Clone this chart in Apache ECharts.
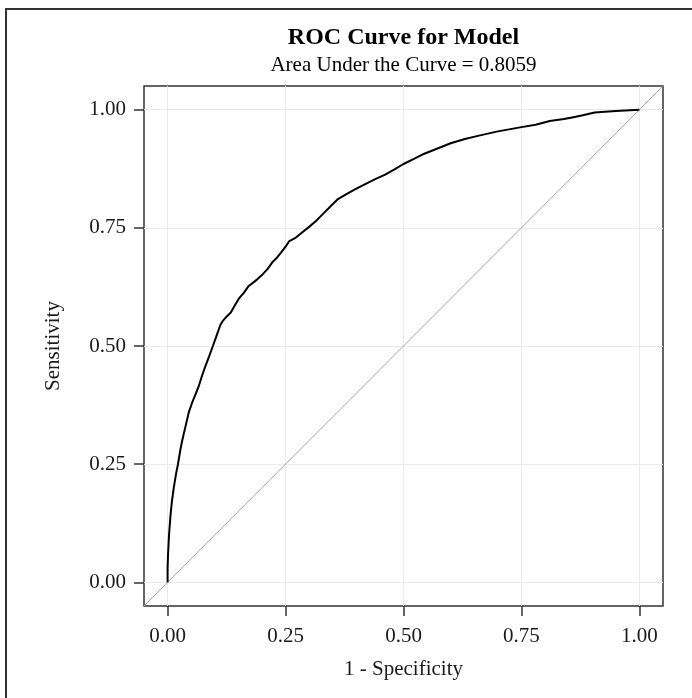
<!DOCTYPE html>
<html>
<head>
<meta charset="utf-8">
<script src="https://cdn.jsdelivr.net/npm/echarts@6/dist/echarts.min.js"></script>
<style>
  html, body { margin: 0; padding: 0; background: #fff; }
  #chart { width: 692px; height: 698px; }
</style>
</head>
<body>
<div id="chart"></div>
<script>
// ROC curve
const fprValues = [0, 0, 0.001, 0.003, 0.006, 0.009, 0.013, 0.018, 0.022, 0.027, 0.031, 0.038, 0.045, 0.052,
    0.06, 0.066, 0.073, 0.08, 0.088, 0.096, 0.105, 0.112, 0.117, 0.125, 0.134, 0.142, 0.151, 0.161, 0.172,
    0.18, 0.19, 0.2, 0.212, 0.222, 0.23, 0.24, 0.25, 0.258, 0.27, 0.285, 0.3, 0.315, 0.33, 0.345, 0.36,
    0.38, 0.4, 0.42, 0.44, 0.46, 0.48, 0.5, 0.52, 0.54, 0.56, 0.58, 0.6, 0.63, 0.66, 0.7, 0.75, 0.78,
    0.81, 0.84, 0.86, 0.88, 0.905, 0.95, 1];
const tprValues = [0, 0.03, 0.06, 0.1, 0.14, 0.17, 0.2, 0.23, 0.25, 0.28, 0.3, 0.33, 0.36, 0.38,
    0.4, 0.415, 0.437, 0.457, 0.478, 0.5, 0.525, 0.545, 0.553, 0.562, 0.571, 0.585, 0.6, 0.612, 0.627,
    0.633, 0.641, 0.65, 0.663, 0.677, 0.685, 0.697, 0.71, 0.722, 0.728, 0.74, 0.752, 0.765, 0.78, 0.795, 0.81,
    0.822, 0.833, 0.843, 0.853, 0.862, 0.873, 0.885, 0.895, 0.905, 0.913, 0.921, 0.929, 0.938, 0.945, 0.954, 0.963, 0.968,
    0.976, 0.98, 0.984, 0.988, 0.994, 0.997, 1];

// reference diagonal, spans the whole panel
const diagValues = [-0.05, 1.05];

const tickValues = [0, 0.25, 0.5, 0.75, 1];
const tickLabels = ['0.00', '0.25', '0.50', '0.75', '1.00'];

const titleText = 'ROC Curve for Model';
const subtitleText = 'Area Under the Curve = 0.8059';

const serif = '"Liberation Serif", "DejaVu Serif", serif';

function makeAxis(name, nameGap, labelMargin) {
    return {
        type: 'value',
        min: -0.05,
        max: 1.05,
        name: name,
        nameLocation: 'middle',
        nameGap: nameGap,
        nameTextStyle: { fontFamily: serif, fontSize: 21, color: '#1a1a1a' },
        axisLine: { show: false, onZero: false },
        axisTick: {
            show: true, inside: false, length: 10, customValues: tickValues,
            lineStyle: { color: '#333', width: 1.5 }
        },
        axisLabel: {
            customValues: tickValues,
            margin: labelMargin,
            fontFamily: serif, fontSize: 21, color: '#1a1a1a',
            formatter: (v) => tickLabels[tickValues.indexOf(v)] || ''
        },
        splitLine: { show: true, lineStyle: { color: '#ebebeb', width: 1 } }
    };
}

function showRocChart(chartId) {
    let option = {
        backgroundColor: '#fff',
        animation: false,
        grid: {
            left: 144, right: 29, top: 86, bottom: 92,
            show: true, borderColor: '#333', borderWidth: 1.5,
            backgroundColor: 'transparent'
        },
        xAxis: makeAxis('1 - Specificity', 53, 20),
        yAxis: makeAxis('Sensitivity', 80, 18),
        graphic: [
            {   // page border, only top and left edges show
                type: 'polyline', silent: true,
                shape: { points: [[6, 698], [6, 9], [692, 9]] },
                style: { stroke: '#333', lineWidth: 2, fill: null }
            },
            {
                type: 'text', silent: true,
                style: {
                    text: titleText, x: 403.5, y: 38,
                    textAlign: 'center', textVerticalAlign: 'middle',
                    font: 'bold 24px ' + serif, fill: '#000'
                }
            },
            {
                type: 'text', silent: true,
                style: {
                    text: subtitleText, x: 403.5, y: 65,
                    textAlign: 'center', textVerticalAlign: 'middle',
                    font: '21px ' + serif, fill: '#000'
                }
            }
        ],
        series: [
            {
                name: 'diagonal',
                type: 'line',
                data: diagValues.map((v) => [v, v]),
                symbol: 'none',
                lineStyle: { color: '#a3a3a3', width: 1 },
                z: 2
            },
            {
                name: 'ROC',
                type: 'line',
                data: fprValues.map((x, i) => [x, tprValues[i]]),
                symbol: 'none',
                lineStyle: { color: '#000', width: 2 },
                z: 3
            }
        ]
    };

    try {
        let chart = echarts.init(document.getElementById(chartId));
        chart.setOption(option);
        return chart;
    } catch (err) {
        console.log(`Error draw ROC chart: ${err}`);
    }
}

showRocChart('chart');
</script>
</body>
</html>
